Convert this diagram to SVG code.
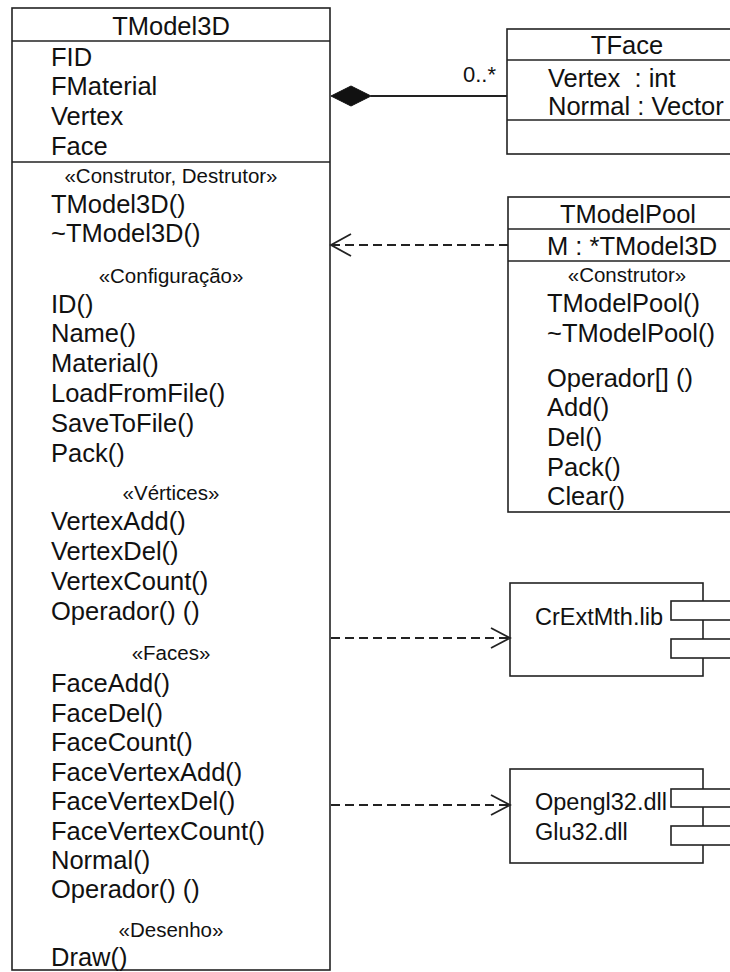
<svg xmlns="http://www.w3.org/2000/svg" width="730" height="972" viewBox="0 0 730 972">
<style>
.box{fill:#fff;stroke:#222;stroke-width:1.6}
.ln{stroke:#222;stroke-width:1.6;fill:none}
.t{font-family:"Liberation Sans",Arial,sans-serif;font-size:25.5px;fill:#111}
.st{font-family:"Liberation Sans",Arial,sans-serif;font-size:20.5px;fill:#111;text-anchor:middle}
.c{text-anchor:middle}
.dash{stroke:#222;stroke-width:1.8;fill:none;stroke-dasharray:9 5}
.head{stroke:#222;stroke-width:1.8;fill:none}
</style>
<rect width="730" height="972" fill="#fff"/>
<g id="TModel3D">
<rect class="box" x="12" y="8" width="318" height="962"/>
<line class="ln" x1="12" y1="41" x2="330" y2="41"/>
<line class="ln" x1="12" y1="162" x2="330" y2="162"/>
<text class="t c" x="171" y="35">TModel3D</text>
<text class="t" x="51" y="66">FID</text>
<text class="t" x="51" y="95">FMaterial</text>
<text class="t" x="51" y="125">Vertex</text>
<text class="t" x="51" y="155">Face</text>
<text class="st" x="171" y="183">«Construtor, Destrutor»</text>
<text class="t" x="51" y="213">TModel3D()</text>
<text class="t" x="51" y="242">~TModel3D()</text>
<text class="st" x="171" y="283">«Configuração»</text>
<text class="t" x="51" y="313">ID()</text>
<text class="t" x="51" y="342">Name()</text>
<text class="t" x="51" y="372">Material()</text>
<text class="t" x="51" y="402">LoadFromFile()</text>
<text class="t" x="51" y="432">SaveToFile()</text>
<text class="t" x="51" y="462">Pack()</text>
<text class="st" x="171" y="500">«Vértices»</text>
<text class="t" x="51" y="530">VertexAdd()</text>
<text class="t" x="51" y="560">VertexDel()</text>
<text class="t" x="51" y="590">VertexCount()</text>
<text class="t" x="51" y="620">Operador() ()</text>
<text class="st" x="171" y="660">«Faces»</text>
<text class="t" x="51" y="692">FaceAdd()</text>
<text class="t" x="51" y="722">FaceDel()</text>
<text class="t" x="51" y="751">FaceCount()</text>
<text class="t" x="51" y="781">FaceVertexAdd()</text>
<text class="t" x="51" y="810">FaceVertexDel()</text>
<text class="t" x="51" y="840">FaceVertexCount()</text>
<text class="t" x="51" y="869">Normal()</text>
<text class="t" x="51" y="898">Operador() ()</text>
<text class="st" x="171" y="937">«Desenho»</text>
<text class="t" x="51" y="966">Draw()</text>
</g>
<g id="TFace">
<rect class="box" x="507" y="29" width="250" height="125"/>
<line class="ln" x1="507" y1="60" x2="757" y2="60"/>
<line class="ln" x1="507" y1="120" x2="757" y2="120"/>
<text class="t c" x="627" y="54">TFace</text>
<text class="t" x="548" y="87" style="white-space:pre">Vertex  : int</text>
<text class="t" x="548" y="115">Normal : Vector</text>
</g>
<g id="TModelPool">
<rect class="box" x="508" y="197" width="250" height="315"/>
<line class="ln" x1="508" y1="229" x2="758" y2="229"/>
<line class="ln" x1="508" y1="261" x2="758" y2="261"/>
<text class="t c" x="628" y="223">TModelPool</text>
<text class="t" x="547" y="255">M : *TModel3D</text>
<text class="st" x="627" y="282">«Construtor»</text>
<text class="t" x="547" y="312">TModelPool()</text>
<text class="t" x="547" y="342">~TModelPool()</text>
<text class="t" x="547" y="387">Operador[] ()</text>
<text class="t" x="547" y="416">Add()</text>
<text class="t" x="547" y="446">Del()</text>
<text class="t" x="547" y="476">Pack()</text>
<text class="t" x="547" y="505">Clear()</text>
</g>
<g id="CrExtMth">
<rect class="box" x="510" y="583" width="193" height="93"/>
<rect class="box" x="671" y="601" width="80" height="19"/>
<rect class="box" x="671" y="639" width="80" height="19"/>
<text class="t" x="535" y="625" style="font-size:23.5px">CrExtMth.lib</text>
</g>
<g id="OpenGL">
<rect class="box" x="510" y="769" width="193" height="94"/>
<rect class="box" x="671" y="789" width="80" height="18"/>
<rect class="box" x="671" y="826" width="80" height="19"/>
<text class="t" x="535" y="810" style="font-size:23.5px">Opengl32.dll</text>
<text class="t" x="535" y="840" style="font-size:23.5px">Glu32.dll</text>
</g>
<g id="connectors">
<line class="ln" x1="371" y1="96" x2="507" y2="96" style="stroke-width:2"/>
<polygon points="331,96 351,86 371,96 351,106" fill="#111" stroke="#111" stroke-width="1"/>
<text class="t" x="463" y="82" style="font-size:22px">0..*</text>
<line class="dash" x1="508" y1="245" x2="332" y2="245"/>
<polyline class="head" points="351,234 331,245 351,256"/>
<line class="dash" x1="331" y1="638" x2="509" y2="638"/>
<polyline class="head" points="491,628 510,638 491,648"/>
<line class="dash" x1="331" y1="805" x2="509" y2="805"/>
<polyline class="head" points="491,795 510,805 491,815"/>
</g>
</svg>
